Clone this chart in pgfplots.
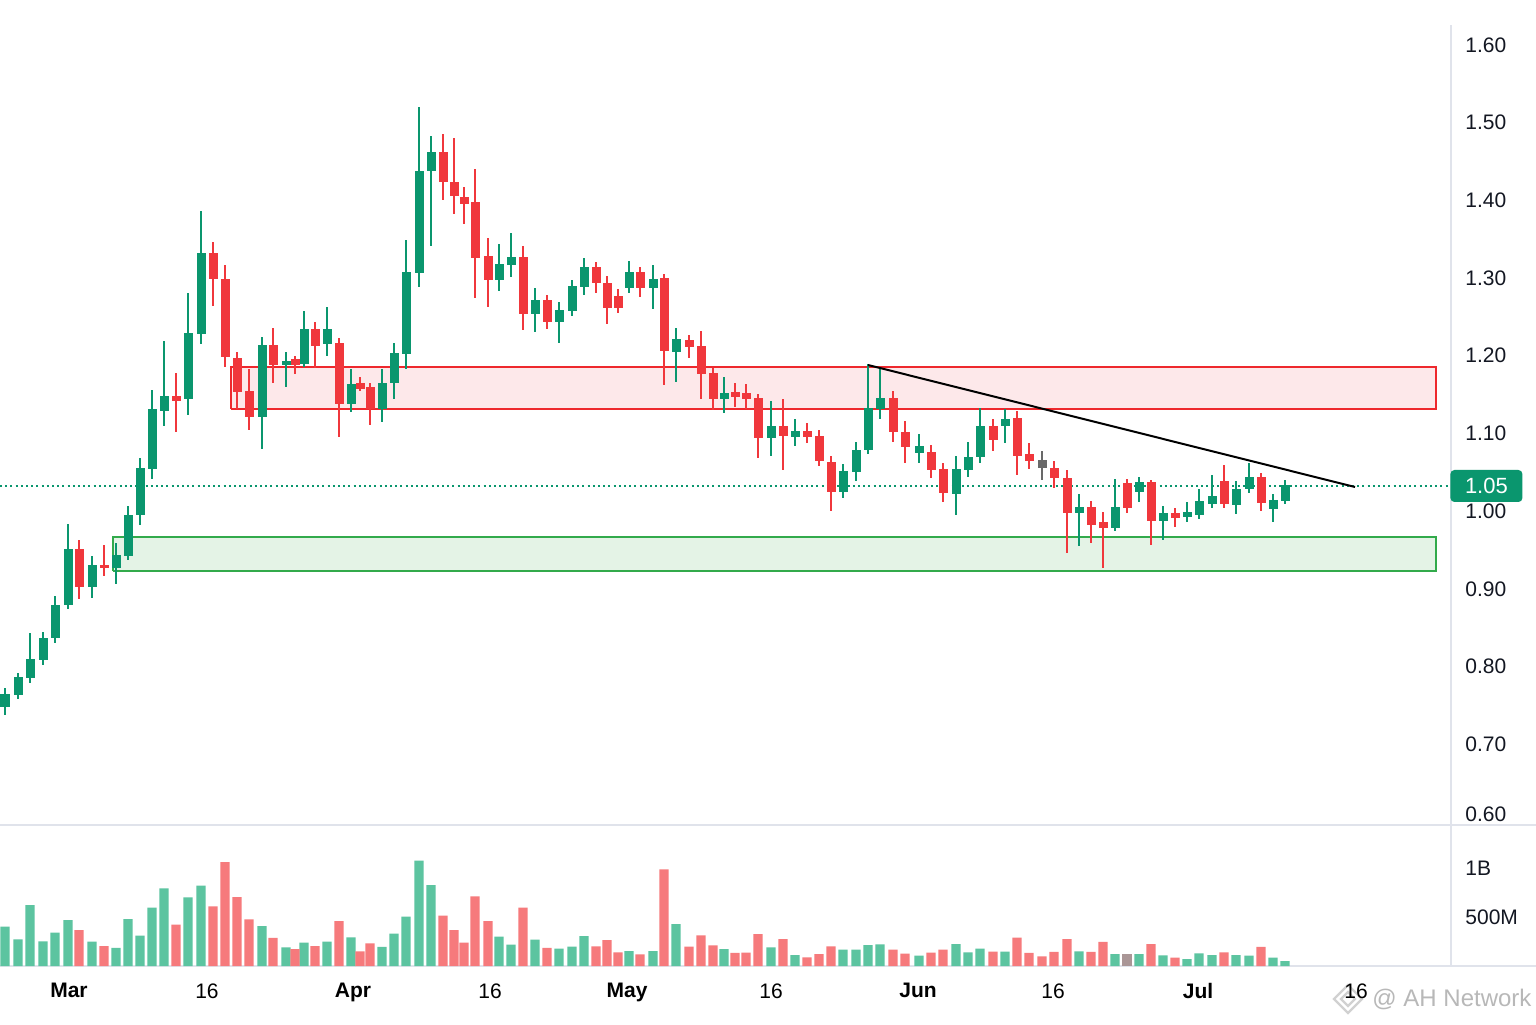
\documentclass[border=0pt]{standalone}
\usepackage{pgfplots}
\pgfplotsset{compat=1.18}
\usepackage{pgfplotstable}
\usepackage{fontspec}
\setmainfont{Liberation Sans}
\definecolor{cgreen}{RGB}{10,150,110}
\definecolor{cred}{RGB}{240,55,60}
\definecolor{cgray}{RGB}{105,105,105}
\definecolor{vgreen}{RGB}{92,196,160}
\definecolor{vred}{RGB}{246,122,124}
\definecolor{vgray}{RGB}{170,150,150}
\definecolor{zred}{RGB}{253,232,234}
\definecolor{zredline}{RGB}{238,40,45}
\definecolor{zgreen}{RGB}{228,243,230}
\definecolor{zgreenline}{RGB}{50,170,75}
\definecolor{sep}{RGB}{224,227,235}
\definecolor{txt}{RGB}{19,23,34}

\pgfplotstableread{
x o h l c
5 0.748 0.772 0.738 0.765
18 0.763 0.792 0.758 0.787
30 0.785 0.843 0.779 0.810
43 0.809 0.845 0.802 0.837
55 0.837 0.891 0.830 0.879
68 0.879 0.984 0.874 0.951
92 0.902 0.942 0.888 0.931
116 0.927 0.959 0.906 0.944
128 0.942 1.007 0.937 0.995
140 0.995 1.069 0.982 1.056
152 1.054 1.156 1.041 1.132
164 1.129 1.219 1.110 1.148
188 1.144 1.281 1.124 1.229
201 1.228 1.386 1.215 1.332
262 1.121 1.224 1.080 1.214
286 1.188 1.205 1.160 1.193
304 1.189 1.258 1.186 1.235
327 1.215 1.263 1.200 1.235
351 1.138 1.183 1.128 1.164
382 1.132 1.183 1.115 1.165
394 1.165 1.217 1.144 1.204
406 1.202 1.349 1.183 1.308
419 1.307 1.520 1.289 1.438
431 1.438 1.483 1.341 1.462
499 1.298 1.344 1.283 1.318
511 1.317 1.358 1.301 1.327
535 1.254 1.287 1.231 1.272
559 1.244 1.269 1.217 1.259
572 1.258 1.298 1.251 1.290
584 1.289 1.326 1.278 1.314
629 1.287 1.322 1.281 1.308
653 1.287 1.317 1.260 1.299
676 1.205 1.236 1.166 1.222
724 1.144 1.173 1.126 1.152
771 1.094 1.142 1.071 1.110
795 1.096 1.119 1.084 1.103
843 1.025 1.061 1.017 1.052
856 1.050 1.089 1.039 1.079
868 1.079 1.189 1.074 1.133
880 1.132 1.183 1.119 1.146
919 1.075 1.099 1.062 1.084
956 1.022 1.071 0.995 1.054
968 1.053 1.089 1.044 1.070
980 1.070 1.133 1.062 1.110
1005 1.110 1.132 1.088 1.119
1079 0.998 1.022 0.955 1.005
1115 0.978 1.041 0.975 1.005
1139 1.025 1.044 1.012 1.038
1163 0.987 1.007 0.963 0.998
1187 0.992 1.012 0.986 0.999
1199 0.995 1.029 0.990 1.013
1212 1.009 1.047 1.004 1.020
1236 1.008 1.039 0.996 1.029
1249 1.029 1.062 1.023 1.044
1273 1.003 1.022 0.986 1.014
1285 1.013 1.040 1.009 1.034
}\greens

\pgfplotstableread{
x o h l c
79 0.951 0.963 0.887 0.902
104 0.931 0.957 0.917 0.927
176 1.148 1.178 1.102 1.142
213 1.332 1.346 1.264 1.299
225 1.299 1.317 1.186 1.198
237 1.197 1.205 1.132 1.153
249 1.155 1.183 1.105 1.121
273 1.214 1.236 1.165 1.188
295 1.196 1.200 1.177 1.188
315 1.235 1.244 1.184 1.213
339 1.217 1.223 1.096 1.138
360 1.165 1.173 1.155 1.157
370 1.160 1.165 1.111 1.132
443 1.462 1.485 1.401 1.424
454 1.424 1.480 1.383 1.406
464 1.404 1.417 1.370 1.395
475 1.398 1.440 1.274 1.326
488 1.328 1.352 1.263 1.298
523 1.327 1.341 1.233 1.254
547 1.272 1.278 1.235 1.244
596 1.314 1.321 1.281 1.294
607 1.294 1.303 1.241 1.262
618 1.277 1.286 1.255 1.262
640 1.308 1.314 1.276 1.287
664 1.300 1.305 1.162 1.206
689 1.220 1.227 1.197 1.211
701 1.213 1.232 1.144 1.177
713 1.178 1.184 1.130 1.144
735 1.153 1.165 1.134 1.147
746 1.152 1.164 1.132 1.144
758 1.146 1.151 1.069 1.094
783 1.110 1.144 1.053 1.097
807 1.103 1.114 1.088 1.096
819 1.097 1.105 1.058 1.065
831 1.063 1.071 1.000 1.025
893 1.146 1.155 1.089 1.102
905 1.102 1.116 1.062 1.083
931 1.076 1.085 1.043 1.053
943 1.054 1.062 1.012 1.023
993 1.110 1.119 1.078 1.092
1017 1.120 1.129 1.047 1.071
1029 1.074 1.088 1.054 1.065
1054 1.056 1.065 1.030 1.043
1067 1.043 1.053 0.946 0.998
1091 1.005 1.013 0.959 0.982
1103 0.986 0.999 0.927 0.978
1127 1.036 1.041 0.998 1.004
1151 1.038 1.040 0.957 0.987
1175 0.998 1.004 0.980 0.991
1224 1.039 1.059 1.004 1.009
1261 1.044 1.049 1.000 1.011
}\reds

\pgfplotstableread{
x o h l c
1042 1.066 1.078 1.040 1.056
}\grays

\pgfplotstableread{
x v
5 401
18 272
30 622
43 252
55 340
68 469
92 248
116 184
128 479
140 309
152 595
164 792
188 700
201 819
262 408
286 190
304 238
327 248
351 292
382 194
394 330
406 503
419 1075
431 826
499 299
511 218
535 269
559 177
572 197
584 306
629 153
653 153
676 428
724 173
771 190
795 112
843 167
856 167
868 214
880 221
919 105
956 224
968 139
980 177
1005 146
1079 150
1115 122
1139 122
1163 109
1187 71
1199 129
1212 112
1236 112
1249 105
1273 85
1285 51
}\vgreens

\pgfplotstableread{
x v
79 367
104 204
176 422
213 609
225 1061
237 704
249 476
273 286
295 173
315 204
339 459
360 150
370 231
443 513
454 367
464 238
475 711
488 459
523 595
547 184
596 201
607 265
618 140
640 119
664 986
689 197
701 313
713 211
735 133
746 136
758 326
783 275
807 88
819 122
831 201
893 167
905 126
931 136
943 167
993 146
1017 289
1029 133
1042 99
1054 143
1067 275
1091 143
1103 245
1151 224
1175 85
1224 139
1261 194
}\vreds

\pgfplotstableread{
x v
1127 122
}\vgrays

\pgfplotsset{
  chart/.style={
    scale only axis, clip=false,
    axis x line*=bottom, axis y line*=right,
    axis line style={draw=none},
    xmin=0, xmax=1451,
    tick style={draw=none},
    yticklabel style={anchor=west, inner sep=0pt, xshift=7pt,
      font=\fontsize{10.5}{12}\selectfont, text=txt},
  },
  wick/.style={draw=none, mark=none, forget plot,
    error bars/.cd, y dir=both, y explicit, error mark=none,
    error bar style={line width=0.9pt, draw=#1, solid}},
  body/.style={draw=none, mark=none, forget plot,
    error bars/.cd, y dir=both, y explicit, error mark=none,
    error bar style={line width=4.5pt, draw=#1, solid}},
}

\begin{document}
\begin{tikzpicture}
\useasboundingbox (0pt,0pt) rectangle (768pt,512pt);
\fill[white] (0pt,0pt) rectangle (768pt,512pt);
\draw[sep, line width=0.6pt] (725.5pt,29pt) -- (725.5pt,499.5pt);
\draw[sep, line width=0.6pt] (0pt,99.5pt) -- (768pt,99.5pt);
\draw[sep, line width=0.6pt] (0pt,29pt) -- (768pt,29pt);

% watermark logo (drawn shape, behind the date label)
\draw[black!18, line width=1.1pt] (667pt,12.5pt) -- (674pt,19.5pt) -- (681pt,12.5pt) -- (674pt,5.5pt) -- cycle;
\draw[black!18, line width=1.1pt] (670.5pt,12.5pt) -- (674pt,16pt) -- (677.5pt,12.5pt) -- (674pt,9pt) -- cycle;

% price panel
\begin{axis}[chart, at={(0pt,99.5pt)}, anchor=south west,
  width=725.5pt, height=400pt,
  ymin=0.5961, ymax=1.6257,
  xtick=\empty,
  ytick={0.61,0.7,0.8,0.9,1.0,1.1,1.2,1.3,1.4,1.5,1.6},
  yticklabels={0.60,0.70,0.80,0.90,1.00,1.10,1.20,1.30,1.40,1.50,1.60}]
  % zones
  \addplot[fill=zred, draw=zredline, line width=0.7pt, forget plot]
    coordinates {(231,1.1315) (1436,1.1315) (1436,1.1856) (231,1.1856) (231,1.1315)};
  \addplot[fill=zgreen, draw=zgreenline, line width=0.7pt, forget plot]
    coordinates {(113,0.9230) (1436,0.9230) (1436,0.9668) (113,0.9668) (113,0.9230)};
  % last price line
  \addplot[cgreen, line width=0.75pt, dash pattern=on 1pt off 1.6pt, forget plot]
    coordinates {(0,1.0324) (1451,1.0324)};
  % candles
  \addplot[wick=cgreen] table[x=x, y expr={(\thisrow{h}+\thisrow{l})/2}, y error expr={(\thisrow{h}-\thisrow{l})/2}] {\greens};
  \addplot[body=cgreen] table[x=x, y expr={(\thisrow{o}+\thisrow{c})/2}, y error expr={abs(\thisrow{c}-\thisrow{o})/2}] {\greens};
  \addplot[wick=cred] table[x=x, y expr={(\thisrow{h}+\thisrow{l})/2}, y error expr={(\thisrow{h}-\thisrow{l})/2}] {\reds};
  \addplot[body=cred] table[x=x, y expr={(\thisrow{o}+\thisrow{c})/2}, y error expr={abs(\thisrow{c}-\thisrow{o})/2}] {\reds};
  \addplot[wick=cgray] table[x=x, y expr={(\thisrow{h}+\thisrow{l})/2}, y error expr={(\thisrow{h}-\thisrow{l})/2}] {\grays};
  \addplot[body=cgray] table[x=x, y expr={(\thisrow{o}+\thisrow{c})/2}, y error expr={abs(\thisrow{c}-\thisrow{o})/2}] {\grays};
  % trend line
  \addplot[black, line width=1pt, forget plot] coordinates {(868,1.1881) (1355,1.0311)};
  % last price label
  \node[fill=cgreen, text=white, rounded corners=2pt, minimum width=36pt,
    minimum height=16pt, inner sep=0pt, anchor=west,
    font=\fontsize{11}{12}\selectfont] at (axis cs:1450,1.0324) {1.05};
\end{axis}

% volume panel
\begin{axis}[chart, at={(0pt,29pt)}, anchor=south west,
  width=725.5pt, height=70.5pt,
  ymin=0, ymax=1438.8,
  ytick={500,1000}, yticklabels={500M,1B},
  xtick={69,207,353,490,627,771,918,1053,1198,1356},
  xticklabels={\textbf{Mar},16,\textbf{Apr},16,\textbf{May},16,\textbf{Jun},16,\textbf{Jul},16},
  xticklabel style={anchor=north, inner sep=0pt, yshift=-8.5pt,
    font=\fontsize{10.5}{12}\selectfont, text=black}]
  \addplot[ybar, bar width=4.6pt, bar shift=0pt, fill=vgreen, draw=none] table[x=x, y=v] {\vgreens};
  \addplot[ybar, bar width=4.6pt, bar shift=0pt, fill=vred, draw=none] table[x=x, y=v] {\vreds};
  \addplot[ybar, bar width=4.6pt, bar shift=0pt, fill=vgray, draw=none] table[x=x, y=v] {\vgrays};
\end{axis}

% watermark text
\node[text=black!28, font=\fontsize{12}{14}\selectfont, anchor=west, inner sep=0pt] at (686pt,12.5pt) {@ AH Network};
\end{tikzpicture}
\end{document}
